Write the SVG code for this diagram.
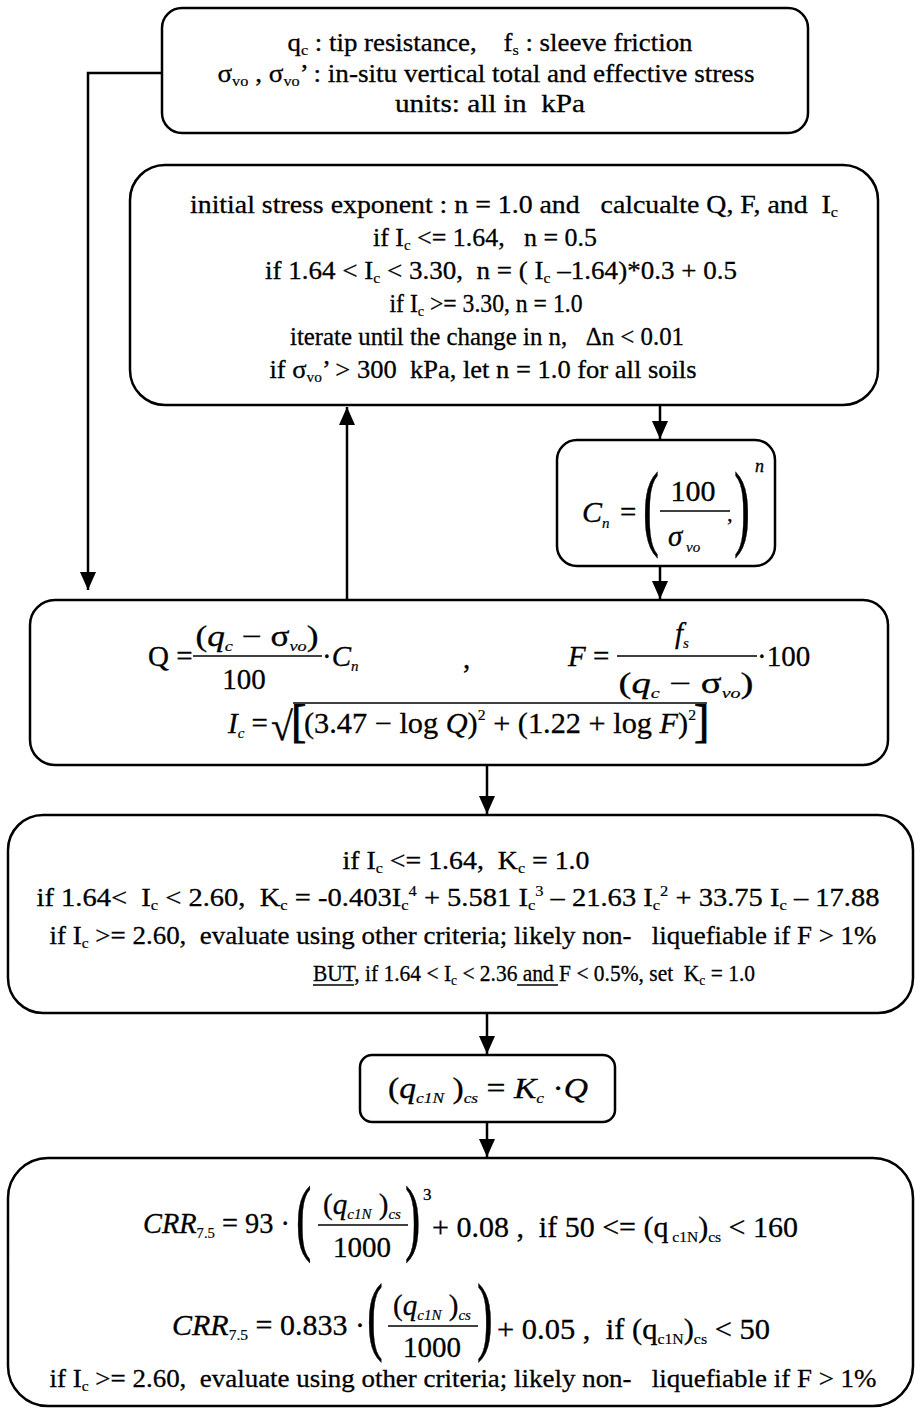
<svg xmlns="http://www.w3.org/2000/svg" width="915" height="1409" viewBox="0 0 915 1409">
<style>
.b{fill:#fff;stroke:#000;stroke-width:2.5}
.c{fill:none;stroke:#000;stroke-width:2.5}
text{font-family:"Liberation Serif","Times New Roman",serif;fill:#000;stroke:#000;stroke-width:0.3}
.t1{font-size:25px}
.t2{font-size:26px}
.t5{font-size:26px}
.m{font-size:29px}
.i{font-style:italic}
.s{font-size:15px;stroke-width:0.2}
.fl{stroke:#000;stroke-width:1.6}
.ul{stroke:#000;stroke-width:1.4}
</style>
<defs>
<marker id="ah" markerUnits="userSpaceOnUse" markerWidth="18" markerHeight="16" refX="18" refY="8" orient="auto"><path d="M0,0 L18,8 L0,16 z" fill="#000"/></marker>
</defs>
<rect width="915" height="1409" fill="#fff"/>
<g id="connectors">
<path class="c" d="M162,73 H88 V590" marker-end="url(#ah)"/>
<path class="c" d="M347,600 V407" marker-end="url(#ah)"/>
<path class="c" d="M660,405 V439" marker-end="url(#ah)"/>
<path class="c" d="M660,566 V599" marker-end="url(#ah)"/>
<path class="c" d="M487,765 V814" marker-end="url(#ah)"/>
<path class="c" d="M487,1013 V1054" marker-end="url(#ah)"/>
<path class="c" d="M487,1122 V1157" marker-end="url(#ah)"/>
</g>
<g id="inputs">
<rect class="b" x="162" y="8" width="646" height="125" rx="20"/>
<text class="t1" x="490" y="51" text-anchor="middle" xml:space="preserve" textLength="405" lengthAdjust="spacingAndGlyphs">q<tspan class="s" dy="4">c</tspan><tspan dy="-4"> : tip resistance,    f</tspan><tspan class="s" dy="4">s</tspan><tspan dy="-4"> : sleeve friction</tspan></text>
<text class="t1" x="486" y="82" text-anchor="middle" xml:space="preserve" textLength="537" lengthAdjust="spacingAndGlyphs">σ<tspan class="s" dy="4">vo</tspan><tspan dy="-4"> , σ</tspan><tspan class="s" dy="4">vo</tspan><tspan dy="-4">’ : in-situ vertical total and effective stress</tspan></text>
<text class="t1" x="490" y="112" text-anchor="middle" xml:space="preserve" textLength="190" lengthAdjust="spacingAndGlyphs">units: all in  kPa</text>
</g>
<g id="stress-exponent">
<rect class="b" x="130" y="165" width="748" height="240" rx="35"/>
<text class="t2" x="514" y="213" text-anchor="middle" xml:space="preserve" textLength="648" lengthAdjust="spacingAndGlyphs">initial stress exponent : n = 1.0 and   calcualte Q, F, and  I<tspan class="s" dy="4">c</tspan></text>
<text class="t2" x="485" y="246" text-anchor="middle" xml:space="preserve" textLength="224" lengthAdjust="spacingAndGlyphs">if I<tspan class="s" dy="4">c</tspan><tspan dy="-4"> &lt;= 1.64,   n = 0.5</tspan></text>
<text class="t2" x="501" y="279" text-anchor="middle" xml:space="preserve" textLength="472" lengthAdjust="spacingAndGlyphs">if 1.64 &lt; I<tspan class="s" dy="4">c</tspan><tspan dy="-4"> &lt; 3.30,  n = ( I</tspan><tspan class="s" dy="4">c</tspan><tspan dy="-4"> –1.64)*0.3 + 0.5</tspan></text>
<text class="t2" x="486" y="312" text-anchor="middle" xml:space="preserve" textLength="193" lengthAdjust="spacingAndGlyphs" style="font-size:25px">if I<tspan class="s" dy="4">c</tspan><tspan dy="-4"> &gt;= 3.30, n = 1.0</tspan></text>
<text class="t2" x="487" y="345" text-anchor="middle" xml:space="preserve" textLength="394" lengthAdjust="spacingAndGlyphs">iterate until the change in n,   Δn &lt; 0.01</text>
<text class="t2" x="483" y="378" text-anchor="middle" xml:space="preserve" textLength="427" lengthAdjust="spacingAndGlyphs">if σ<tspan class="s" dy="4">vo</tspan><tspan dy="-4">’ &gt; 300  kPa, let n = 1.0 for all soils</tspan></text>
</g>
<g id="cn">
<rect class="b" x="557" y="440" width="218" height="126" rx="20"/>
<text class="m i" x="582" y="522" style="font-size:30px">C<tspan class="s i" dy="6">n</tspan></text>
<text class="m" x="620" y="522">=</text>
<text transform="translate(643,538) scale(0.5,1)" style="font-size:96px;stroke-width:0.6">(</text>
<text class="m" x="693" y="501" text-anchor="middle" style="font-size:30px">100</text>
<line class="fl" x1="660" y1="511" x2="730" y2="511"/>
<text class="m" x="668" y="546"><tspan class="i">σ</tspan><tspan class="s i" dy="6"> vo</tspan></text>
<text x="726" y="533" style="font-size:22px">’</text>
<text transform="translate(734,538) scale(0.5,1)" style="font-size:96px;stroke-width:0.6">)</text>
<text class="i" x="755" y="472" style="font-size:18px">n</text>
</g>
<g id="q-f-ic">
<rect class="b" x="30" y="600" width="858" height="165" rx="25"/>
<text class="m" x="148" y="666">Q =</text>
<text class="m" x="257" y="646" text-anchor="middle" xml:space="preserve" textLength="123" lengthAdjust="spacingAndGlyphs">(<tspan class="i">q</tspan><tspan class="s i" dy="5">c</tspan><tspan dy="-5"> − σ</tspan><tspan class="s i" dy="5">vo</tspan><tspan dy="-5">)</tspan></text>
<line class="fl" x1="193" y1="656" x2="322" y2="656"/>
<text class="m" x="244" y="689" text-anchor="middle">100</text>
<text class="m" x="322" y="666">·<tspan class="i">C</tspan><tspan class="s i" dy="5">n</tspan></text>
<text class="m" x="463" y="668">,</text>
<text class="m" x="568" y="666"><tspan class="i">F</tspan> =</text>
<text class="m" x="682" y="643" text-anchor="middle"><tspan class="i">f</tspan><tspan class="s i" dy="5">s</tspan></text>
<line class="fl" x1="617" y1="656" x2="757" y2="656"/>
<text class="m" x="686" y="693" text-anchor="middle" xml:space="preserve" textLength="135" lengthAdjust="spacingAndGlyphs">(<tspan class="i">q</tspan><tspan class="s i" dy="5">c</tspan><tspan dy="-5"> − σ</tspan><tspan class="s i" dy="5">vo</tspan><tspan dy="-5">)</tspan></text>
<text class="m" x="757" y="666">·100</text>
<text class="m" x="228" y="733"><tspan class="i">I</tspan><tspan class="s i" dy="5">c</tspan><tspan dy="-5"> =</tspan></text>
<text x="271" y="740" style="font-size:40px">√</text>
<line class="fl" x1="293" y1="703" x2="707" y2="703"/>
<text x="291" y="737" style="font-size:46px;stroke-width:0.8">[</text>
<text class="m" x="304" y="733" xml:space="preserve" textLength="392" lengthAdjust="spacingAndGlyphs">(3.47 − log <tspan class="i">Q</tspan>)<tspan class="s" dy="-13">2</tspan><tspan dy="13"> + (1.22 + log </tspan><tspan class="i">F</tspan>)<tspan class="s" dy="-13">2</tspan></text>
<text x="694" y="737" style="font-size:46px;stroke-width:0.8">]</text>
</g>
<g id="kc">
<rect class="b" x="8" y="815" width="905" height="198" rx="35"/>
<text class="t5" x="466" y="869" text-anchor="middle" xml:space="preserve" textLength="247" lengthAdjust="spacingAndGlyphs">if I<tspan class="s" dy="4">c</tspan><tspan dy="-4"> &lt;= 1.64,  K</tspan><tspan class="s" dy="4">c</tspan><tspan dy="-4"> = 1.0</tspan></text>
<text class="t5" x="458" y="906" text-anchor="middle" xml:space="preserve" textLength="843" lengthAdjust="spacingAndGlyphs">if 1.64&lt;  I<tspan class="s" dy="4">c</tspan><tspan dy="-4"> &lt; 2.60,  K</tspan><tspan class="s" dy="4">c</tspan><tspan dy="-4"> = -0.403I</tspan><tspan class="s" dy="4">c</tspan><tspan class="s" dy="-14">4</tspan><tspan dy="10"> + 5.581 I</tspan><tspan class="s" dy="4">c</tspan><tspan class="s" dy="-14">3</tspan><tspan dy="10"> – 21.63 I</tspan><tspan class="s" dy="4">c</tspan><tspan class="s" dy="-14">2</tspan><tspan dy="10"> + 33.75 I</tspan><tspan class="s" dy="4">c</tspan><tspan dy="-4"> – 17.88</tspan></text>
<text class="t5" x="463" y="944" text-anchor="middle" xml:space="preserve" textLength="827" lengthAdjust="spacingAndGlyphs">if I<tspan class="s" dy="4">c</tspan><tspan dy="-4"> &gt;= 2.60,  evaluate using other criteria; likely non-   liquefiable if F &gt; 1%</tspan></text>
<text class="t5" x="313" y="981" xml:space="preserve" textLength="442" lengthAdjust="spacingAndGlyphs" style="font-size:24px">BUT, if 1.64 &lt; I<tspan class="s" dy="4">c</tspan><tspan dy="-4"> &lt; 2.36 and F &lt; 0.5%, set  K</tspan><tspan class="s" dy="4">c</tspan><tspan dy="-4"> = 1.0</tspan></text>
<line class="ul" x1="313" y1="985" x2="354" y2="985"/>
<line class="ul" x1="517" y1="985" x2="558" y2="985"/>
</g>
<g id="qc1n">
<rect class="b" x="360" y="1055" width="255" height="67" rx="12"/>
<text class="m" x="388" y="1098" xml:space="preserve" textLength="200" lengthAdjust="spacingAndGlyphs">(<tspan class="i">q</tspan><tspan class="s i" dy="5">c1N</tspan><tspan dy="-5"> )</tspan><tspan class="s i" dy="5">cs</tspan><tspan dy="-5"> = </tspan><tspan class="i">K</tspan><tspan class="s i" dy="5">c</tspan><tspan dy="-5"> ·</tspan><tspan class="i">Q</tspan></text>
</g>
<g id="crr">
<rect class="b" x="8" y="1158" width="905" height="248" rx="40"/>
<text class="m" x="143" y="1233" xml:space="preserve" textLength="147" lengthAdjust="spacingAndGlyphs"><tspan class="i">CRR</tspan><tspan class="s" dy="5">7.5</tspan><tspan dy="-5"> = 93 ·</tspan></text>
<text transform="translate(296,1245) scale(0.55,1)" style="font-size:84px;stroke-width:0.6">(</text>
<text class="m" x="362" y="1214" text-anchor="middle">(<tspan class="i">q</tspan><tspan class="s i" dy="5">c1N</tspan><tspan dy="-5"> )</tspan><tspan class="s i" dy="5">cs</tspan></text>
<line class="fl" x1="318" y1="1225" x2="408" y2="1225"/>
<text class="m" x="362" y="1257" text-anchor="middle">1000</text>
<text transform="translate(405,1245) scale(0.55,1)" style="font-size:84px;stroke-width:0.6">)</text>
<text x="423" y="1200" style="font-size:17px">3</text>
<text class="m" x="432" y="1237" xml:space="preserve" textLength="366" lengthAdjust="spacingAndGlyphs">+ 0.08 ,  if 50 &lt;= (q<tspan class="s" dy="5"> c1N</tspan><tspan dy="-5">)</tspan><tspan class="s" dy="5">cs</tspan><tspan dy="-5"> &lt; 160</tspan></text>
<text class="m" x="172" y="1335" xml:space="preserve" textLength="193" lengthAdjust="spacingAndGlyphs"><tspan class="i">CRR</tspan><tspan class="s" dy="5">7.5</tspan><tspan dy="-5"> = 0.833 ·</tspan></text>
<text transform="translate(367,1344) scale(0.55,1)" style="font-size:86px;stroke-width:0.6">(</text>
<text class="m" x="432" y="1315" text-anchor="middle">(<tspan class="i">q</tspan><tspan class="s i" dy="5">c1N</tspan><tspan dy="-5"> )</tspan><tspan class="s i" dy="5">cs</tspan></text>
<line class="fl" x1="388" y1="1326" x2="478" y2="1326"/>
<text class="m" x="432" y="1357" text-anchor="middle">1000</text>
<text transform="translate(477,1344) scale(0.55,1)" style="font-size:86px;stroke-width:0.6">)</text>
<text class="m" x="497" y="1339" xml:space="preserve" textLength="273" lengthAdjust="spacingAndGlyphs">+ 0.05 ,  if (q<tspan class="s" dy="5">c1N</tspan><tspan dy="-5">)</tspan><tspan class="s" dy="5">cs</tspan><tspan dy="-5"> &lt; 50</tspan></text>
<text class="t5" x="463" y="1387" text-anchor="middle" xml:space="preserve" textLength="827" lengthAdjust="spacingAndGlyphs">if I<tspan class="s" dy="4">c</tspan><tspan dy="-4"> &gt;= 2.60,  evaluate using other criteria; likely non-   liquefiable if F &gt; 1%</tspan></text>
</g>
</svg>
